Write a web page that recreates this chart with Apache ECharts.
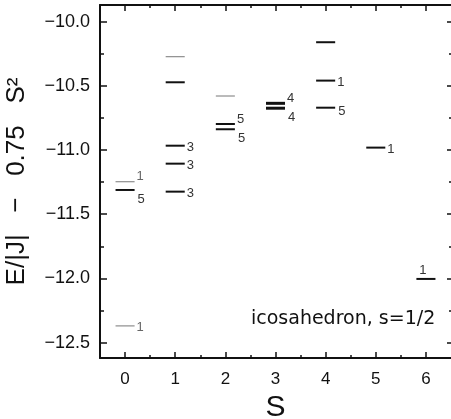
<!DOCTYPE html>
<html>
<head>
<meta charset="utf-8">
<script src="https://cdn.jsdelivr.net/npm/echarts@6/dist/echarts.min.js"></script>
<style>
html, body { margin: 0; padding: 0; background: #fff; }
#chart { width: 451px; height: 419px; }
</style>
</head>
<body>
<div id="chart"></div>
<script>
// energy levels: total spin S, energy, degeneracy label
var levelS = [0, 0, 0, 1, 1, 1, 1, 1, 2, 2, 2, 3, 3, 4, 4, 4, 5, 6];
var levelE = [-11.247, -11.311, -12.37, -10.273, -10.472, -10.966, -11.106, -11.324, -10.579, -10.797, -10.838, -10.636, -10.674, -10.16, -10.459, -10.67, -10.981, -12.004];
var levelDeg = ['1', '5', '1', '', '', '3', '3', '3', '', '5', '5', '4', '4', '', '1', '5', '1', '1'];

// drawing hints (thin grey line, where the label sits)
var levelThin = [1, 0, 1, 1, 0, 0, 0, 0, 1, 0, 0, 0, 0, 0, 0, 0, 0, 0];
var labelPos = ['up', 'down', 'mid', '', '', 'mid', 'mid', 'mid', '', 'up', 'down', 'up', 'down', '', 'mid', 'low', 'mid', 'top'];

var sTicks = [0, 1, 2, 3, 4, 5, 6];
var sMinor = [0.5, 1.5, 2.5, 3.5, 4.5, 5.5];
var eTicks = [-12.5, -12, -11.5, -11, -10.5, -10];
var eMinor = [-12.25, -11.75, -11.25, -10.75, -10.25];

var FONT = 'Liberation Sans';
var HALF = 0.19;

function fmtE(v) {
	return v.toFixed(1).replace('-', '\u2212');
}

function renderLevel(params, api) {
	var i = params.dataIndex;
	var a = api.coord([api.value(0) - HALF, api.value(1)]);
	var b = api.coord([api.value(0) + HALF, api.value(1)]);
	var thin = levelThin[i];
	var kids = [{
		type: 'line',
		shape: { x1: a[0], y1: a[1], x2: b[0], y2: b[1] },
		style: { stroke: thin ? '#777' : '#111', lineWidth: thin ? 1 : (levelS[i] == 3 ? 3 : 2) }
	}];
	var txt = levelDeg[i];
	if (txt) {
		var p = labelPos[i];
		var tx = b[0] + 2, ty = b[1], align = 'left';
		if (p == 'up') ty = b[1] - 5;
		else if (p == 'down') { tx = b[0] + 3; ty = b[1] + 9; }
		else if (p == 'mid') ty = b[1] + 2;
		else if (p == 'low') { tx = b[0] + 3; ty = b[1] + 4; }
		else if (p == 'top') { tx = (a[0] + b[0]) / 2 - 3; ty = b[1] - 9; align = 'center'; }
		kids.push({
			type: 'text',
			x: tx,
			y: ty,
			style: {
				text: txt,
				fontSize: 13,
				fontFamily: FONT,
				fill: thin ? '#666' : '#333',
				align: align,
				verticalAlign: 'middle'
			}
		});
	}
	return { type: 'group', children: kids };
}

var chart = echarts.init(document.getElementById('chart'));

function xAx(pos, ticks, len, showLine, showLabel) {
	return {
		type: 'value',
		position: pos,
		min: -0.5,
		max: 6.5,
		axisLine: { show: showLine, onZero: false, lineStyle: { color: '#111', width: 2 } },
		axisTick: { show: true, inside: true, length: len, customValues: ticks, lineStyle: { color: '#111', width: 1.5 } },
		axisLabel: showLabel ? {
			show: true, customValues: ticks, margin: 13,
			fontSize: 17, fontFamily: FONT, color: '#111'
		} : { show: false },
		splitLine: { show: false }
	};
}

function yAx(pos, ticks, len, showLine, showLabel) {
	return {
		type: 'value',
		position: pos,
		min: -12.62,
		max: -9.87,
		axisLine: { show: showLine, onZero: false, lineStyle: { color: '#111', width: 2 } },
		axisTick: { show: true, inside: true, length: len, customValues: ticks, lineStyle: { color: '#111', width: 1.5 } },
		axisLabel: showLabel ? {
			show: true, customValues: ticks, margin: 10,
			fontSize: 18, fontFamily: FONT, color: '#111',
			formatter: fmtE
		} : { show: false },
		splitLine: { show: false }
	};
}

var xs = [
	xAx('bottom', sTicks, 6, true, true),
	xAx('bottom', sMinor, 3, false, false),
	xAx('top', sTicks, 6, true, false),
	xAx('top', sMinor, 3, false, false)
];
xs[0].name = 'S';
xs[0].nameLocation = 'middle';
xs[0].nameGap = 25;
xs[0].nameTextStyle = { fontSize: 30, fontFamily: FONT, color: '#111' };

var ys = [
	yAx('left', eTicks, 7, true, true),
	yAx('left', eMinor, 4, false, false),
	yAx('right', eTicks, 4, false, false),
	yAx('right', eMinor, 2, false, false)
];
ys[0].name = 'E/|J|   \u2212   0.75   S\u00b2';
ys[0].nameLocation = 'middle';
ys[0].nameGap = 70;
ys[0].nameTextStyle = { fontSize: 26, fontFamily: FONT, color: '#111' };

var option = {
	animation: false,
	grid: { left: 100, right: 0, top: 5, bottom: 61, containLabel: false, outerBoundsMode: 'none' },
	xAxis: xs,
	yAxis: ys,
	graphic: [{
		type: 'text',
		left: 251,
		top: 310,
		style: { text: 'icosahedron, s=1/2', fontSize: 19, fontFamily: 'DejaVu Sans', fill: '#111' }
	}],
	series: [{
		type: 'custom',
		xAxisIndex: 0,
		yAxisIndex: 0,
		renderItem: renderLevel,
		encode: { x: 0, y: 1 },
		data: levelS.map(function (s, i) { return [s, levelE[i]]; })
	}]
};
chart.setOption(option);
</script>
</body>
</html>
